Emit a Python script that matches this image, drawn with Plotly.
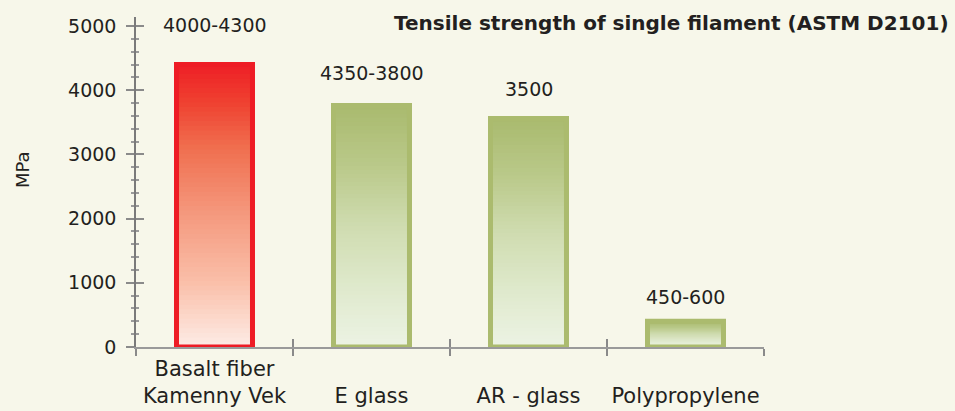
import plotly.graph_objects as go

# ---------------- data ----------------
categories = ["Basalt fiber Kamenny Vek", "E glass", "AR - glass", "Polypropylene"]
tick_labels = ["Basalt fiber<br>Kamenny Vek", "<br>E glass", "<br>AR - glass", "<br>Polypropylene"]
strength_mpa = [4400, 3760, 3560, 400]
value_labels = ["4000-4300", "4350-3800", "3500", "450-600"]
y_ticks = [0, 1000, 2000, 3000, 4000, 5000]

# ---------------- style ----------------
BG = "#f7f7ea"
TXT = "#231f20"
RED_SCALE = [(0.0, "#fdece6"), (0.23, "#fabfa9"), (0.45, "#f59c82"),
             (0.70, "#f07050"), (0.87, "#ef4030"), (1.0, "#ee1f26")]
GREEN_SCALE = [(0.0, "#ecf3e4"), (0.25, "#dfe9cc"), (0.5, "#cfdcb0"),
               (0.75, "#bac98a"), (1.0, "#a9ba6e")]
scales = [RED_SCALE, GREEN_SCALE, GREEN_SCALE, GREEN_SCALE]
border_colors = ["#ee1c25", "#abbb6e", "#abbb6e", "#abbb6e"]
label_shift = [27, 20, 16, 11]
BAR_W = 0.484
N_SEG = 60


def hex2rgb(h):
    h = h.lstrip("#")
    return tuple(int(h[i:i + 2], 16) for i in (0, 2, 4))


def sample(scale, t):
    for (t0, c0), (t1, c1) in zip(scale[:-1], scale[1:]):
        if t <= t1:
            f = 0 if t1 == t0 else (t - t0) / (t1 - t0)
            a, b = hex2rgb(c0), hex2rgb(c1)
            return "rgb(%d,%d,%d)" % tuple(round(a[i] + (b[i] - a[i]) * f) for i in range(3))
    return scale[-1][1]


fig = go.Figure()

# gradient fill: overlapping bar segments, each running from its base up to the value
for k in range(N_SEG):
    frac0 = k / N_SEG
    t_mid = (k + 0.5) / N_SEG
    fig.add_trace(go.Bar(
        x=categories,
        y=[v * (1 - frac0) for v in strength_mpa],
        base=[v * frac0 for v in strength_mpa],
        width=BAR_W,
        marker=dict(color=[sample(s, t_mid) for s in scales], line=dict(width=0)),
        hoverinfo="skip", showlegend=False,
    ))

# outline bars
fig.add_trace(go.Bar(
    x=categories, y=strength_mpa, base=0, width=BAR_W,
    marker=dict(color="rgba(0,0,0,0)", line=dict(color=border_colors, width=5)),
    hovertemplate="%{x}: %{y} MPa<extra></extra>", showlegend=False,
))

# invisible trace to drive the overlay axes (crossing tick marks)
fig.add_trace(go.Scatter(
    x=categories, y=strength_mpa, xaxis="x2", yaxis="y2", mode="markers",
    marker=dict(opacity=0), hoverinfo="skip", showlegend=False,
))

for c, v, lab, sh in zip(categories, strength_mpa, value_labels, label_shift):
    fig.add_annotation(x=c, y=v, xref="x", yref="y", text=lab, showarrow=False,
                       yanchor="bottom", yshift=sh, font=dict(size=19, color=TXT))

fig.add_annotation(text="MPa", xref="paper", yref="paper", x=(22 - 136) / 628,
                   xanchor="center", y=(347 - 170) / 330, yanchor="middle",
                   textangle=-90, showarrow=False, font=dict(size=18, color=TXT))

fig.add_annotation(text="<b>Tensile strength of single filament (ASTM D2101)</b>",
                   xref="paper", yref="paper", x=(951 - 136) / 628, xanchor="right",
                   y=(347 - 23) / 330, yanchor="middle", showarrow=False,
                   font=dict(size=20, color=TXT))

y_range = [0, 5140]
fig.update_layout(
    width=955, height=411,
    margin=dict(l=136, r=955 - 764, t=17, b=411 - 347),
    paper_bgcolor=BG, plot_bgcolor=BG,
    barmode="overlay", showlegend=False,
    font=dict(family="DejaVu Sans", color=TXT, size=18),
    xaxis=dict(type="category", range=[-0.5, 3.5], tickmode="array",
               tickvals=categories, ticktext=tick_labels, tickson="boundaries",
               ticks="outside", ticklen=7, tickcolor="#8a8a8a", tickwidth=1.5,
               showline=True, linecolor="#9a9a9a", linewidth=1.5, tickangle=0,
               automargin=False,
               showgrid=False, zeroline=False, tickfont=dict(size=21, color=TXT),
               ticklabelstandoff=2),
    xaxis2=dict(type="category", overlaying="x", matches="x", tickmode="array",
                tickvals=categories, tickson="boundaries",
                ticks="inside", ticklen=8, tickcolor="#8a8a8a", tickwidth=1.5,
                showticklabels=False, showline=False, showgrid=False, zeroline=False,
                automargin=False),
    yaxis=dict(range=y_range, tickmode="array", tickvals=y_ticks,
               ticks="outside", ticklen=8, tickcolor="#8a8a8a", tickwidth=1.5,
               minor=dict(tickmode="linear", tick0=0, dtick=200, ticks="outside",
                          ticklen=3, tickcolor="#9a9a9a", tickwidth=1.5, showgrid=False),
               showline=True, linecolor="#7a7a7a", linewidth=1.5, automargin=False,
               showgrid=False, zeroline=False, ticklabelstandoff=6,
               tickfont=dict(size=19, color=TXT)),
    yaxis2=dict(overlaying="y", matches="y", side="left", range=y_range,
                tickmode="array", tickvals=y_ticks, automargin=False,
                ticks="inside", ticklen=8, tickcolor="#8a8a8a", tickwidth=1.5,
                minor=dict(tickmode="linear", tick0=0, dtick=200, ticks="inside",
                           ticklen=3, tickcolor="#9a9a9a", tickwidth=1.5, showgrid=False),
                showticklabels=False, showline=False, showgrid=False, zeroline=False),
)

# remove the page's default body margin so the 955x411 figure fills the window
fig.write_html("out.html", config={"displayModeBar": False}, post_script=(
    "document.body.style.margin='0';"
    "document.body.style.overflow='hidden';"
    "document.body.style.background='%s';" % BG))
